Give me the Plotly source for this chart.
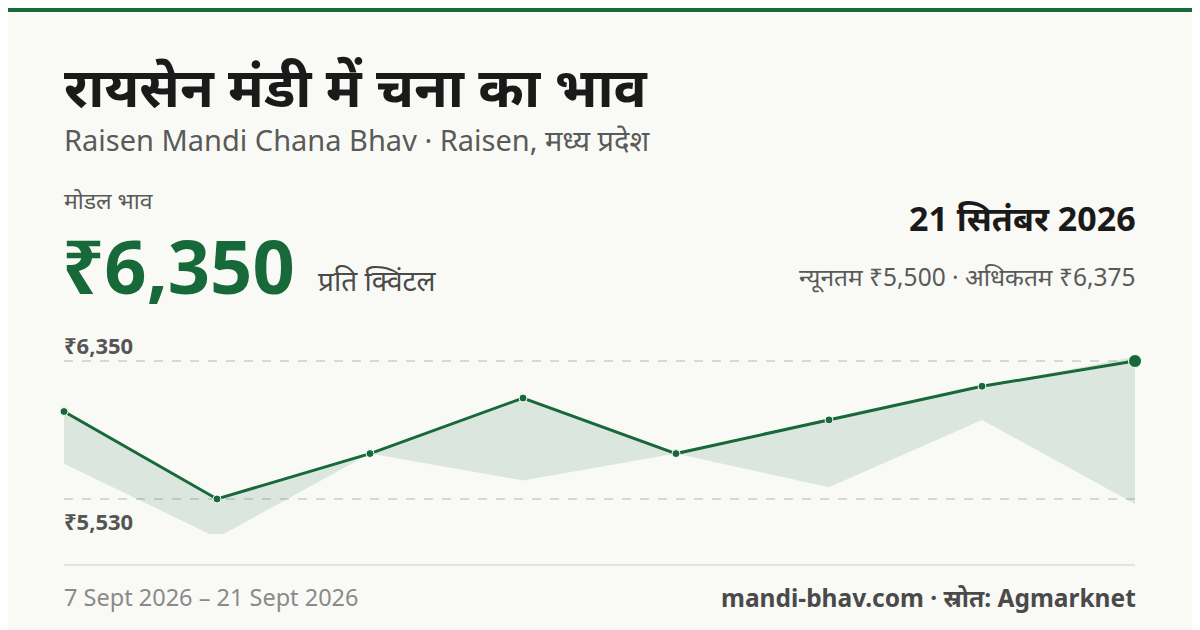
import plotly.graph_objects as go

dates = ["2026-09-07","2026-09-09","2026-09-11","2026-09-13","2026-09-15","2026-09-17","2026-09-19","2026-09-21"]
modal = [6050, 5530, 5800, 6130, 5800, 6000, 6200, 6350]
min_p = [5740, 5300, 5800, 5640, 5800, 5600, 6000, 5500]
max_p = [6050, 5530, 5800, 6130, 5800, 6000, 6200, 6375]
ref_hi, ref_lo = 6350, 5530

G = "#17693a"
F = "Noto Sans"
OX, OY = 8, 8  # page offset compensation
W, H = 1200, 630
def px(x): return (x - OX) / W
def py(y): return 1 - (y - OY) / H

fig = go.Figure()
fig.add_trace(go.Scatter(x=dates, y=max_p, mode="lines", line=dict(width=0), hoverinfo="skip"))
fig.add_trace(go.Scatter(x=dates, y=min_p, mode="lines", line=dict(width=0), fill="tonexty",
                         fillcolor="rgba(23,105,58,0.13)", hoverinfo="skip"))
fig.add_trace(go.Scatter(x=dates, y=modal, mode="lines+markers", line=dict(color=G, width=3),
                         marker=dict(color=G, size=[8]*7+[13], opacity=1), cliponaxis=False))
for v in (ref_hi, ref_lo):
    fig.add_shape(type="line", xref="paper", x0=px(64), x1=px(1135), y0=v, y1=v, yref="y",
                  line=dict(color="#b5b5b0", width=1, dash="dash"), layer="below")
fig.add_shape(type="rect", xref="paper", yref="paper", x0=0, x1=1, y0=1-4/630, y1=1,
              fillcolor=G, line_width=0)
fig.add_shape(type="line", xref="paper", yref="paper", x0=px(64), x1=px(1135), y0=py(565), y1=py(565),
              line=dict(color="#dcdcd6", width=1.5))

def t(x, y, s, size, color="#1a1a1a", anchor="left", bold=False):
    fig.add_annotation(xref="paper", yref="paper", x=px(x), y=py(y), text=f"<b>{s}</b>" if bold else s,
                       showarrow=False, xanchor=anchor, yanchor="middle", xshift=-2 if anchor=="left" else 2,
                       font=dict(family=F, size=size, color=color))

t(64, 85, "रायसेन मंडी में चना का भाव", 55, bold=True)
t(64, 139, "Raisen Mandi Chana Bhav · Raisen, मध्य प्रदेश", 29, "#5a5a5a")
t(64, 200, "मोडल भाव", 23, "#5a5a5a")
t(62, 265, "₹6,350", 74, G, bold=True)
t(318, 280, "प्रति क्विंटल", 28, "#4a4a4a")
t(1136, 218, "21 सितंबर 2026", 34, bold=True, anchor="right")
t(1136, 276, "न्यूनतम ₹5,500 · अधिकतम ₹6,375", 24.5, "#5a5a5a", anchor="right")
t(64, 345, "₹6,350", 22, "#555", bold=True)
t(64, 521, "₹5,530", 22, "#555", bold=True)
t(64, 597, "7 Sept 2026 – 21 Sept 2026", 23.5, "#8a8a8a")
t(1136, 597, "mandi-bhav.com · स्रोत: Agmarknet", 24.5, "#4a4a4a", anchor="right", bold=True)

fig.update_layout(width=W, height=H, margin=dict(l=0, r=0, t=0, b=0),
                  paper_bgcolor="#f9faf6", plot_bgcolor="rgba(0,0,0,0)", showlegend=False,
                  xaxis=dict(domain=[px(64), px(1135)], range=[dates[0], dates[-1]], visible=False),
                  yaxis=dict(domain=[py(534), py(340)], range=[5322, 6475], visible=False))
fig.write_html("out.html")
